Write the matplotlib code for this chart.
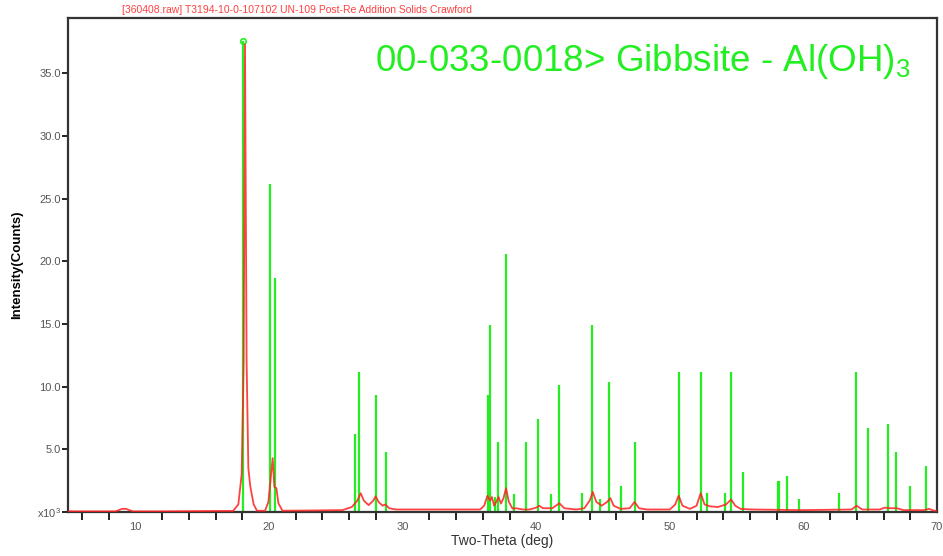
import matplotlib
matplotlib.use("Agg")
import matplotlib.pyplot as plt
import numpy as np

# reference card 00-033-0018 (Gibbsite) stick pattern, intensity in x10^3 counts
card_two_theta = [18.05, 20.10, 20.45, 26.44, 26.74, 27.97, 28.72, 36.37, 36.54, 36.95,
                  37.12, 37.72, 38.32, 39.25, 40.12, 41.13, 41.68, 43.43, 44.18, 44.78,
                  45.41, 46.32, 47.37, 50.65, 52.33, 52.78, 54.14, 54.59, 55.49, 58.10,
                  58.20, 58.80, 59.70, 62.70, 63.90, 64.80, 66.30, 66.90, 67.97, 69.17]
card_counts = [37.6, 26.2, 18.7, 6.2, 11.2, 9.3, 4.8, 9.3, 14.9, 1.2,
               5.6, 20.6, 1.4, 5.6, 7.4, 1.4, 10.1, 1.5, 14.9, 1.0,
               10.4, 2.1, 5.6, 11.2, 11.2, 1.5, 1.5, 11.2, 3.2, 2.5,
               2.5, 2.9, 1.0, 1.5, 11.2, 6.7, 7.0, 4.8, 2.1, 3.7]

# measured scan, x10^3 counts
scan_two_theta = [5.0, 8.5, 9.0, 9.3, 9.8, 12.0, 16.0, 17.3, 17.7, 17.95,
                  18.1, 18.2, 18.32, 18.45, 18.6, 18.85, 19.1, 19.7, 19.95, 20.15,
                  20.27, 20.4, 20.55, 20.7, 21.0, 23.0, 25.5, 26.2, 26.6, 26.86,
                  27.1, 27.45, 27.8, 27.98, 28.2, 28.5, 28.7, 29.0, 29.5, 32.0,
                  35.8, 36.1, 36.35, 36.55, 36.68, 36.85, 37.05, 37.18, 37.36, 37.55,
                  37.74, 37.95, 38.23, 38.5, 39.0, 39.5, 40.0, 40.23, 40.5, 41.2,
                  41.73, 42.1, 43.0, 43.6, 44.0, 44.23, 44.5, 44.9, 45.3, 45.55,
                  45.8, 46.3, 47.0, 47.36, 47.7, 48.3, 50.0, 50.4, 50.66, 50.95,
                  51.5, 52.0, 52.31, 52.6, 53.0, 53.6, 54.2, 54.59, 54.9, 55.3,
                  56.2, 60.0, 63.6, 63.99, 64.4, 65.7, 66.1, 66.5, 67.0, 67.5,
                  69.0, 69.4, 69.8, 70.0]
scan_counts = [0.05, 0.05, 0.25, 0.25, 0.05, 0.05, 0.08, 0.08, 0.6, 3.0,
               12.0, 37.3, 12.0, 3.5, 2.0, 0.6, 0.1, 0.1, 0.8, 3.0,
               4.3, 2.0, 1.9, 0.7, 0.1, 0.12, 0.15, 0.4, 0.9, 1.5,
               0.9, 0.55, 0.9, 1.25, 0.8, 0.5, 0.6, 0.3, 0.2, 0.2,
               0.2, 0.5, 1.3, 0.9, 1.2, 0.5, 0.9, 1.2, 0.67, 1.1,
               1.9, 0.8, 0.27, 0.3, 0.2, 0.2, 0.35, 0.5, 0.3, 0.3,
               0.7, 0.3, 0.2, 0.3, 0.9, 1.6, 0.8, 0.5, 0.8, 1.1,
               0.5, 0.25, 0.3, 0.8, 0.3, 0.2, 0.2, 0.6, 1.3, 0.5,
               0.25, 0.5, 1.5, 0.6, 0.45, 0.4, 0.6, 1.0, 0.5, 0.25,
               0.2, 0.15, 0.2, 0.5, 0.2, 0.2, 0.35, 0.3, 0.3, 0.15,
               0.15, 0.25, 0.1, 0.1]

y_ticks = [0, 5, 10, 15, 20, 25, 30, 35]
y_tick_labels = ["x10$^3$", "5.0", "10.0", "15.0", "20.0", "25.0", "30.0", "35.0"]
x_label_ticks = [10, 20, 30, 40, 50, 60, 70]

GREEN = "#22ee22"
RED = "#ff2020"


def main() -> None:
    plt.rcParams["font.family"] = ["Liberation Sans", "DejaVu Sans"]
    plt.rcParams["mathtext.default"] = "regular"

    fig = plt.figure(figsize=(9.43, 5.56), dpi=100)
    W, H = 943, 556
    ax = fig.add_axes([68 / W, 1 - 512 / H, (937 - 68) / W, (512 - 18) / H])

    ax.vlines(card_two_theta, 0, card_counts, color=GREEN, lw=1.6, zorder=2)
    ax.plot([card_two_theta[0]], [card_counts[0]], "o", ms=4, color=GREEN,
            mfc="none", mew=1.2, zorder=3)
    ax.plot(scan_two_theta, scan_counts, color=RED, lw=1.3, alpha=0.85, zorder=4)

    ax.set_xlim(4.95, 70)
    ax.set_ylim(0, 39.4)

    ax.set_xticks(np.arange(6, 70, 2), minor=True)
    ax.set_xticks(x_label_ticks)
    ax.set_yticks(y_ticks)
    ax.set_yticklabels(y_tick_labels)
    ax.tick_params(axis="both", which="both", direction="out", color="#222",
                   width=1.4, labelcolor="#555", labelsize=8)
    ax.tick_params(axis="x", which="major", length=0, pad=7)
    ax.tick_params(axis="x", which="minor", length=6)
    ax.tick_params(axis="y", length=4, pad=1)

    for sp in ax.spines.values():
        sp.set_color("#333")
        sp.set_linewidth(1.6)

    ax.set_xlabel("Two-Theta (deg)", fontsize=10, color="#333", labelpad=2)
    ax.set_ylabel("Intensity(Counts)", fontsize=9.5, fontweight="bold", labelpad=10)

    fig.text(297 / W, 1 - 10 / H,
             "[360408.raw] T3194-10-0-107102 UN-109 Post-Re Addition Solids Crawford",
             fontsize=7.5, color="#ff4040", ha="center", va="center")
    fig.text(375 / W, 1 - 71 / H, "00-033-0018> Gibbsite - Al(OH)$_3$",
             fontsize=26.5, color=GREEN, ha="left", va="baseline")

    fig.savefig("out.png", dpi=100)
    plt.close(fig)


if __name__ == "__main__":
    main()
